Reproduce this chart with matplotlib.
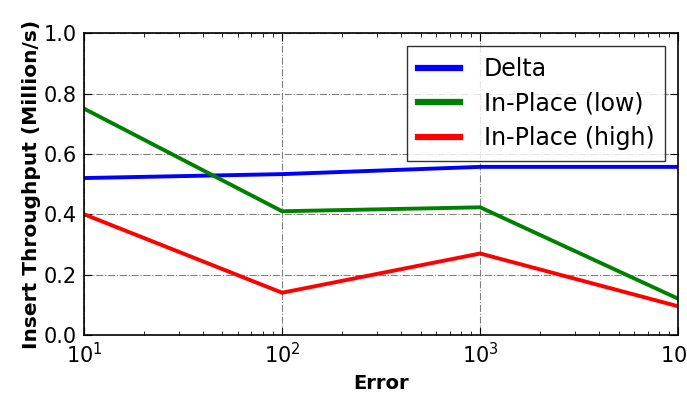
import matplotlib
matplotlib.use("Agg")
import matplotlib.pyplot as plt

error = [10, 100, 1000, 10000]
delta = [0.52, 0.533, 0.557, 0.557]
inplace_low = [0.75, 0.41, 0.423, 0.12]
inplace_high = [0.40, 0.14, 0.27, 0.095]

fig = plt.figure(figsize=(6.87, 3.93), dpi=100)
ax = fig.add_axes([0.1223, 0.1476, 0.865, 0.768])

ax.plot(error, delta, color="b", lw=2.8, label="Delta")
ax.plot(error, inplace_low, color="g", lw=2.8, label="In-Place (low)")
ax.plot(error, inplace_high, color="r", lw=2.8, label="In-Place (high)")

ax.set_xscale("log")
ax.set_xlim(10, 10000)
ax.set_ylim(0, 1.0)
ax.set_yticks([0, 0.2, 0.4, 0.6, 0.8, 1.0])
ax.set_yticklabels(["0.0", "0.2", "0.4", "0.6", "0.8", "1.0"])
ax.grid(True, color="gray", linestyle="-.", linewidth=0.8)
ax.tick_params(which="both", direction="in", top=True, right=True, labelsize=15)
ax.tick_params(which="major", length=6, pad=5)
ax.tick_params(which="minor", length=3)
for s in ax.spines.values():
    s.set_linewidth(1.2)

ax.set_xlabel("Error", fontsize=14, fontweight="bold", labelpad=5)
ax.set_ylabel("Insert Throughput (Million/s)", fontsize=14.5, fontweight="bold",
              labelpad=2)
leg = ax.legend(loc="upper right", fontsize=17, fancybox=False, edgecolor="black",
                handlelength=1.8, borderpad=0.45, labelspacing=0.45,
                handletextpad=1.0, borderaxespad=0.55)
for line in leg.get_lines():
    line.set_linewidth(4.5)

fig.savefig("out.png", dpi=100)
